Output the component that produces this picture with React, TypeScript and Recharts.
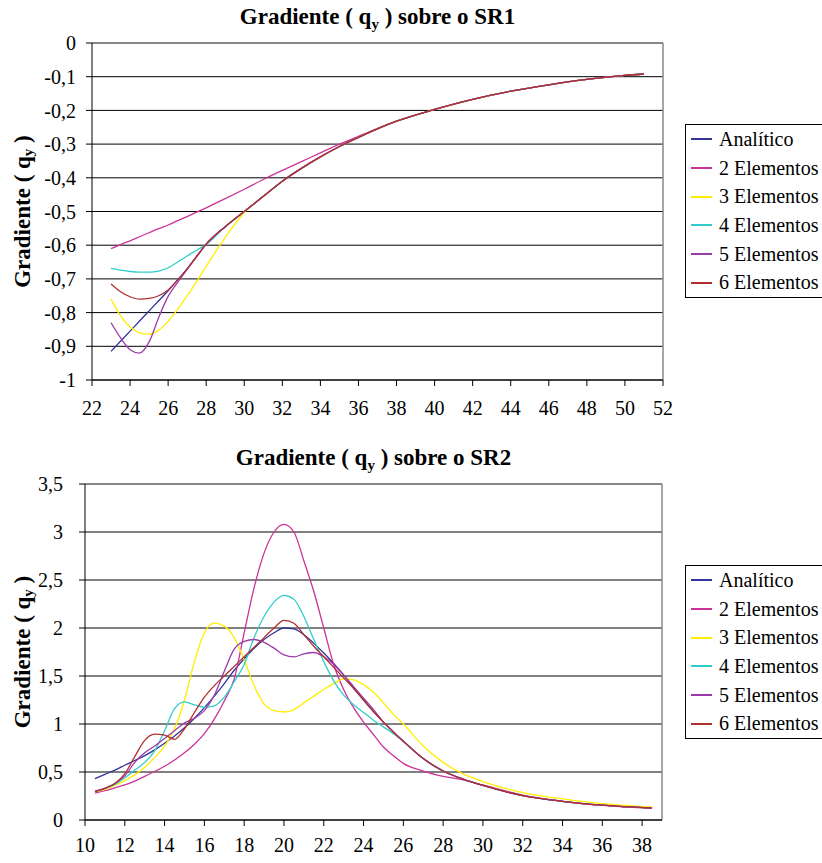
import { LineChart, Line, XAxis, YAxis, CartesianGrid, Legend, ReferenceLine } from 'recharts'

const FONT = "'Liberation Serif', Tinos, 'Times New Roman', 'DejaVu Serif', serif"

const SERIES = ['Analítico', '2 Elementos', '3 Elementos', '4 Elementos', '5 Elementos', '6 Elementos']
const COLORS = ['#333399', '#CC3399', '#FFEE00', '#33CCCC', '#9C3BAA', '#B22E2E']

// SR1
const topX = [23, 23.5, 24, 24.5, 25, 25.5, 26, 26.5, 27, 27.5, 28, 29, 30, 31, 32, 33, 34, 35, 36, 38, 40, 42, 44, 46, 48, 50, 51]
const topAnalitico = [-0.915, -0.885, -0.855, -0.825, -0.795, -0.765, -0.735, -0.703, -0.67, -0.633, -0.597, -0.545, -0.5, -0.455, -0.41, -0.372, -0.338, -0.307, -0.28, -0.232, -0.197, -0.167, -0.143, -0.124, -0.108, -0.096, -0.092]
const top2 = [-0.61, -0.598, -0.587, -0.575, -0.563, -0.551, -0.54, -0.527, -0.515, -0.502, -0.489, -0.462, -0.434, -0.405, -0.378, -0.352, -0.326, -0.3, -0.277, -0.232, -0.197, -0.167, -0.143, -0.124, -0.108, -0.096, -0.092]
const top3 = [-0.76, -0.81, -0.843, -0.86, -0.864, -0.852, -0.826, -0.79, -0.75, -0.708, -0.663, -0.577, -0.503, -0.455, -0.41, -0.372, -0.338, -0.307, -0.28, -0.232, -0.197, -0.167, -0.143, -0.124, -0.108, -0.096, -0.092]
const top4 = [-0.669, -0.674, -0.678, -0.68, -0.68, -0.677, -0.667, -0.65, -0.632, -0.615, -0.598, -0.545, -0.5, -0.455, -0.41, -0.372, -0.338, -0.307, -0.28, -0.232, -0.197, -0.167, -0.143, -0.124, -0.108, -0.096, -0.092]
const top5 = [-0.83, -0.875, -0.91, -0.92, -0.887, -0.815, -0.752, -0.71, -0.672, -0.634, -0.597, -0.545, -0.5, -0.455, -0.41, -0.372, -0.338, -0.307, -0.28, -0.232, -0.197, -0.167, -0.143, -0.124, -0.108, -0.096, -0.092]
const top6 = [-0.715, -0.738, -0.753, -0.76, -0.758, -0.75, -0.733, -0.703, -0.67, -0.633, -0.597, -0.545, -0.5, -0.455, -0.41, -0.372, -0.338, -0.307, -0.28, -0.232, -0.197, -0.167, -0.143, -0.124, -0.108, -0.096, -0.092]
const topXTicks = [22, 24, 26, 28, 30, 32, 34, 36, 38, 40, 42, 44, 46, 48, 50, 52]
const topYTicks = [0, -0.1, -0.2, -0.3, -0.4, -0.5, -0.6, -0.7, -0.8, -0.9, -1]

// SR2
const botX = [10.5, 11, 11.5, 12, 12.5, 13, 13.5, 14, 14.5, 15, 15.5, 16, 16.5, 17, 17.5, 18, 18.5, 19, 19.5, 20, 20.5, 21, 21.5, 22, 22.5, 23, 23.5, 24, 24.5, 25, 25.5, 26, 27, 28, 29, 30, 32, 34, 36, 38.5]
const botAnalitico = [0.43, 0.475, 0.52, 0.57, 0.62, 0.67, 0.73, 0.8, 0.875, 0.96, 1.06, 1.17, 1.29, 1.42, 1.56, 1.68, 1.79, 1.88, 1.95, 2.0, 1.99, 1.93, 1.84, 1.74, 1.63, 1.51, 1.38, 1.25, 1.13, 1.02, 0.915, 0.82, 0.64, 0.51, 0.425, 0.36, 0.255, 0.195, 0.155, 0.125]
const bot2 = [0.28, 0.305, 0.335, 0.365, 0.405, 0.455, 0.505, 0.56, 0.625, 0.7, 0.79, 0.9, 1.05, 1.24, 1.47, 1.95, 2.42, 2.78, 3.0, 3.08, 3.0, 2.7, 2.38, 2.0, 1.62, 1.36, 1.17, 1.02, 0.89, 0.76, 0.67, 0.59, 0.51, 0.455, 0.417, 0.365, 0.26, 0.195, 0.152, 0.122]
const bot3 = [0.295, 0.32, 0.36, 0.41, 0.47, 0.55, 0.65, 0.77, 0.95, 1.25, 1.65, 1.95, 2.05, 2.02, 1.9, 1.67, 1.4, 1.21, 1.14, 1.125, 1.15, 1.22, 1.29, 1.36, 1.42, 1.47, 1.46, 1.41, 1.33, 1.22, 1.1, 1.0, 0.77, 0.6, 0.48, 0.4, 0.285, 0.22, 0.17, 0.135]
const bot4 = [0.295, 0.33, 0.37, 0.44, 0.52, 0.6, 0.72, 0.93, 1.16, 1.23, 1.2, 1.175, 1.19, 1.28, 1.44, 1.62, 1.9, 2.12, 2.27, 2.34, 2.3, 2.12, 1.88, 1.65, 1.45, 1.3, 1.2, 1.12, 1.04, 0.97, 0.9, 0.82, 0.64, 0.51, 0.425, 0.36, 0.255, 0.195, 0.155, 0.125]
const bot5 = [0.3, 0.33, 0.38, 0.46, 0.6, 0.7, 0.77, 0.85, 0.93, 1.01, 1.06, 1.14, 1.3, 1.55, 1.78, 1.86, 1.88, 1.85, 1.79, 1.72, 1.7, 1.73, 1.745, 1.7, 1.62, 1.51, 1.39, 1.27, 1.15, 1.02, 0.92, 0.82, 0.64, 0.51, 0.425, 0.36, 0.255, 0.195, 0.155, 0.125]
const bot6 = [0.295, 0.33, 0.38, 0.48, 0.66, 0.83, 0.895, 0.885, 0.84, 0.95, 1.12, 1.28, 1.4, 1.5, 1.6, 1.7, 1.8, 1.9, 2.0, 2.08, 2.05, 1.93, 1.81, 1.7, 1.59, 1.48, 1.37, 1.25, 1.13, 1.02, 0.915, 0.82, 0.64, 0.51, 0.425, 0.36, 0.255, 0.195, 0.155, 0.125]
const botXTicks = [10, 12, 14, 16, 18, 20, 22, 24, 26, 28, 30, 32, 34, 36, 38]
const botYTicks = [0, 0.5, 1, 1.5, 2, 2.5, 3, 3.5]

function buildRows(xs: number[], series: number[][]) {
  return xs.map((x, i) => {
    const row: Record<string, number> = { x }
    series.forEach((s, k) => { row[`s${k}`] = s[i] })
    return row
  })
}

const fmtComma = (v: number) => String(Math.round(v * 10) / 10 || 0).replace('.', ',')

// legend box, in series order (recharts sorts the payload by name otherwise)
const renderLegend = () => (
  <div style={{ border: '1px solid #000', background: '#fff', width: 150, boxSizing: 'border-box', fontFamily: FONT, fontSize: 20, color: '#000' }}>
    {SERIES.map((name, k) => (
      <div key={name} style={{ display: 'flex', alignItems: 'center', height: 28.7, whiteSpace: 'nowrap' }}>
        <span style={{ display: 'inline-block', width: 21, height: 2, background: COLORS[k], marginLeft: 5, marginRight: 7 }} />
        <span>{name}</span>
      </div>
    ))}
  </div>
)

const renderYTitle = (props: any) => {
  const vb = props.viewBox || {}
  const cy = (vb.y ?? 0) + (vb.height ?? 0) / 2
  const cx = 22
  return (
    <text x={cx} y={cy} transform={`rotate(-90, ${cx}, ${cy})`} textAnchor="middle" dominantBaseline="central"
      fontFamily={FONT} fontWeight="bold" fontSize={23} fill="#000">
      Gradiente ( q<tspan fontSize={15} dy={6}>y</tspan><tspan dy={-6}> )</tspan>
    </text>
  )
}

interface ChartProps {
  title: string
  top: number
  height: number
  rows: Record<string, number>[]
  xDomain: [number, number]
  xTicks: number[]
  yDomain: [number, number]
  yTicks: number[]
  yAxisWidth: number
  margin: { top: number; right: number; bottom: number; left: number }
  xAxisHeight: number
  xTickMargin: number
  yTickMargin: number
  titleTop: number
  legendTop: number
}

function GradChart(p: ChartProps) {
  const tick = { fill: '#000', fontSize: 20, fontFamily: FONT }
  return (
    <div style={{ position: 'absolute', left: 0, top: p.top, width: 822, height: p.height }}>
      <div style={{ position: 'absolute', left: p.yAxisWidth, width: 822 - p.yAxisWidth - p.margin.right, top: p.titleTop, textAlign: 'center', fontFamily: FONT, fontWeight: 'bold', fontSize: 23, lineHeight: '23px', color: '#000', zIndex: 2 }}>
        Gradiente ( q<span style={{ fontSize: 15, position: 'relative', top: 5 }}>y</span> ) {p.title}
      </div>
      <LineChart width={822} height={p.height} data={p.rows} margin={p.margin}>
        <CartesianGrid vertical={false} stroke="#000" strokeWidth={1} />
        <XAxis type="number" dataKey="x" domain={p.xDomain} ticks={p.xTicks} allowDataOverflow interval={0}
          height={p.xAxisHeight} tickSize={6} tickMargin={p.xTickMargin}
          axisLine={{ stroke: '#000' }} tickLine={{ stroke: '#000' }} tick={tick} />
        <YAxis type="number" domain={p.yDomain} ticks={p.yTicks} allowDataOverflow interval={0}
          width={p.yAxisWidth} tickSize={6} tickMargin={p.yTickMargin} tickFormatter={fmtComma}
          axisLine={{ stroke: '#000' }} tickLine={{ stroke: '#000' }} tick={tick} label={renderYTitle} />
        <ReferenceLine y={p.yDomain[1]} stroke="#888" strokeWidth={1.5} />
        <ReferenceLine x={p.xDomain[1]} stroke="#888" strokeWidth={1.5} />
        <Legend layout="vertical" align="center" verticalAlign="middle" content={renderLegend}
          wrapperStyle={{ position: 'absolute', left: 685, top: p.legendTop, width: 150, height: 'auto' }} />
        {SERIES.map((name, k) => (
          <Line key={name} type="monotone" dataKey={`s${k}`} name={name} stroke={COLORS[k]}
            strokeWidth={1.3} dot={false} activeDot={false} isAnimationActive={false} />
        ))}
      </LineChart>
    </div>
  )
}

export default function App() {
  const topRows = buildRows(topX, [topAnalitico, top2, top3, top4, top5, top6])
  const botRows = buildRows(botX, [botAnalitico, bot2, bot3, bot4, bot5, bot6])
  return (
    <div style={{ position: 'absolute', left: 0, top: 0, width: 822, height: 863, overflow: 'hidden', background: '#fff' }}>
      <GradChart title="sobre o SR1" top={0} height={430} rows={topRows}
        xDomain={[22, 52]} xTicks={topXTicks} yDomain={[-1, 0]} yTicks={topYTicks}
        yAxisWidth={92} margin={{ top: 43, right: 159, bottom: 10, left: 0 }}
        xAxisHeight={40} xTickMargin={15} yTickMargin={10} titleTop={5} legendTop={124} />
      <GradChart title="sobre o SR2" top={440} height={423} rows={botRows}
        xDomain={[10, 39]} xTicks={botXTicks} yDomain={[0, 3.5]} yTicks={botYTicks}
        yAxisWidth={85} margin={{ top: 44, right: 160, bottom: 8, left: 0 }}
        xAxisHeight={35} xTickMargin={12} yTickMargin={16} titleTop={6} legendTop={125} />
    </div>
  )
}
